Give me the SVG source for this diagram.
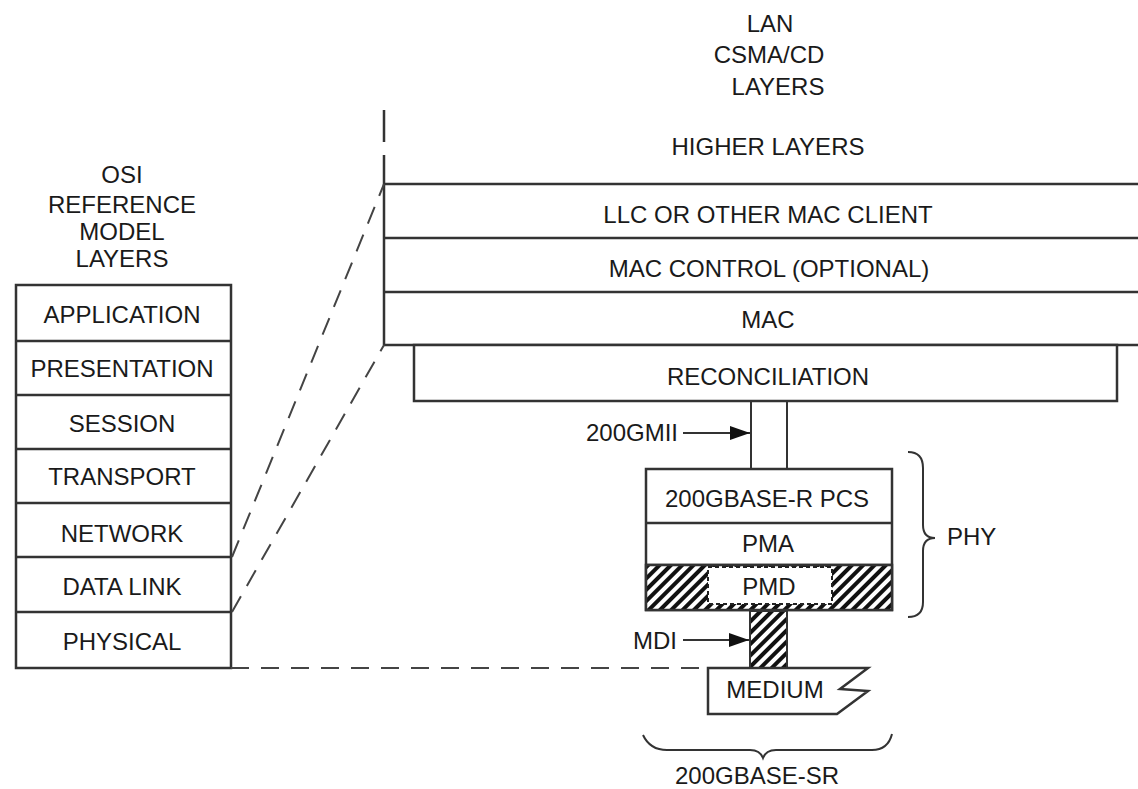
<svg xmlns="http://www.w3.org/2000/svg" width="1138" height="789" viewBox="0 0 1138 789">
<style>
text{font-family:"Liberation Sans",Arial,sans-serif;font-size:24px;fill:#1a1a1a;text-anchor:middle}
.ln{stroke:#333;stroke-width:2.5;fill:none}
.box{stroke:#333;stroke-width:2.5;fill:#fff}
.dash{stroke:#444;stroke-width:2;fill:none;stroke-dasharray:18 12}
.thin{stroke:#333;stroke-width:2;fill:none}
</style>
<defs>
<pattern id="hatch" patternUnits="userSpaceOnUse" width="8" height="8" patternTransform="rotate(45)">
<rect width="8" height="8" fill="#fff"/><rect width="4" height="8" fill="#111"/>
</pattern>
<marker id="arr" viewBox="0 0 20 14" refX="20" refY="7" markerWidth="20" markerHeight="14" markerUnits="userSpaceOnUse" orient="auto">
<path d="M0,0 L20,7 L0,14 z" fill="#111"/>
</marker>
</defs>
<rect width="1138" height="789" fill="#fff"/>

<g id="osi">
<text x="122" y="183">OSI</text>
<text x="122" y="213">REFERENCE</text>
<text x="122" y="240">MODEL</text>
<text x="122" y="267">LAYERS</text>
<rect class="box" x="16" y="285" width="215" height="383"/>
<path class="ln" d="M16,341H231M16,395H231M16,449H231M16,503H231M16,557H231M16,612H231"/>
<text x="122" y="323">APPLICATION</text>
<text x="122" y="377">PRESENTATION</text>
<text x="122" y="432">SESSION</text>
<text x="122" y="485">TRANSPORT</text>
<text x="122" y="542">NETWORK</text>
<text x="122" y="595">DATA LINK</text>
<text x="122" y="650">PHYSICAL</text>
</g>

<g id="lan">
<text x="770" y="32">LAN</text>
<text x="769" y="63">CSMA/CD</text>
<text x="778" y="95">LAYERS</text>
<text x="768" y="155">HIGHER LAYERS</text>
<path class="ln" d="M384,110V142M384,155V345"/>
<path class="ln" d="M384,184H1138M384,238H1138M384,292H1138M384,345H1138"/>
<text x="768" y="223">LLC OR OTHER MAC CLIENT</text>
<text x="769" y="277">MAC CONTROL (OPTIONAL)</text>
<text x="768" y="328">MAC</text>
</g>

<g id="reconciliation">
<rect class="box" x="414" y="345" width="703" height="56"/>
<text x="768" y="385">RECONCILIATION</text>
</g>

<g id="phy">
<rect class="box" x="646" y="469" width="246" height="141"/>
<path class="ln" d="M646,523H892M646,565H892"/>
<rect x="646" y="565" width="246" height="45" fill="url(#hatch)" stroke="#333" stroke-width="2.5"/>
<rect x="708" y="567" width="124" height="37" fill="#fff" stroke="#222" stroke-width="2" stroke-dasharray="4 3"/>
<text x="767" y="507">200GBASE-R PCS</text>
<text x="768" y="552">PMA</text>
<text x="769" y="595">PMD</text>
</g>

<g id="medium">
<rect x="750" y="611" width="37" height="57" fill="url(#hatch)" stroke="#333" stroke-width="2"/>
<path class="box" d="M708,668H868L840,689L868,691L837,714H708Z"/>
<text x="775" y="698">MEDIUM</text>
</g>

<g id="connectors">
<path class="dash" d="M232,557L384,184"/>
<path class="dash" d="M232,612L384,345"/>
<path class="dash" d="M231,668H706"/>
<path class="thin" d="M751,401V469M787,401V469"/>
<path class="thin" d="M683,433H750" marker-end="url(#arr)"/>
<path class="thin" d="M683,640H749" marker-end="url(#arr)"/>
<path class="thin" d="M908,452Q923,452 923,468V525Q923,538 935,538Q923,538 923,551V602Q923,617 908,617"/>
<path class="thin" d="M643,735Q650,750 667,750H750Q760,750 763,758Q766,750 776,750H872Q888,750 892,734"/>
</g>

<g id="labels">
<text x="632" y="441">200GMII</text>
<text x="655" y="649">MDI</text>
<text x="947" y="545" style="text-anchor:start">PHY</text>
<text x="757" y="784">200GBASE-SR</text>
</g>
</svg>
